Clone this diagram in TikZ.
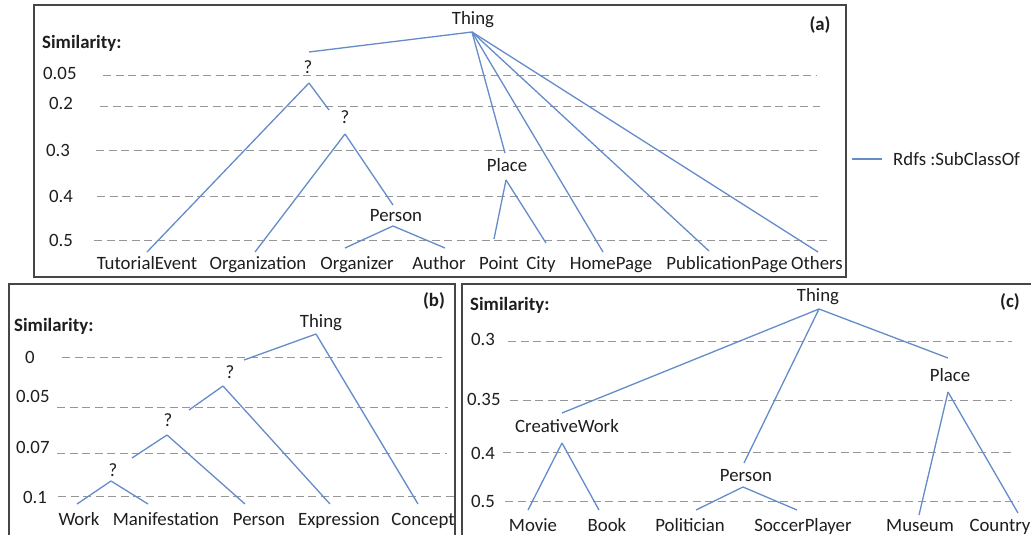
\documentclass[tikz,border=0pt]{standalone}
\usepackage{fontspec}
\setmainfont{Carlito}
\definecolor{edgeblue}{RGB}{100,140,200}
\definecolor{gridgray}{RGB}{150,150,150}
\definecolor{framegray}{RGB}{70,70,70}
\definecolor{txt}{RGB}{30,30,30}
\tikzset{
  lbl/.style={inner sep=0pt, text height=12pt, text depth=0pt, text=txt, font=\fontsize{18.8}{20}\selectfont},
  boldlbl/.style={lbl, font=\fontsize{18.8}{20}\selectfont\bfseries},
  edge/.style={draw=edgeblue, line width=1.3pt},
  grid/.style={draw=gridgray, line width=1pt, dash pattern=on 8pt off 4.5pt},
  frame/.style={draw=framegray, line width=1.6pt},
}
\begin{document}
\begin{tikzpicture}[x=1pt,y=-1pt]
\useasboundingbox (0,0) rectangle (1031,535);
\clip (0,0) rectangle (1031,535);
\fill[white] (0,0) rectangle (1031,535);

% ---------------- Panel (a) ----------------
\draw[frame] (34,5) rectangle (846,277);
\node[boldlbl, anchor=west] (simA) at (42,43) {Similarity:};
\node[boldlbl] (labA) at (820,25) {(a)};
\node[lbl, anchor=west] (a005) at (43,73) {0.05};
\node[lbl, anchor=west] (a02) at (49,103) {0.2};
\node[lbl, anchor=west] (a03) at (46,150) {0.3};
\node[lbl, anchor=west] (a04) at (49,196) {0.4};
\node[lbl, anchor=west] (a05) at (49,240) {0.5};
\draw[grid] (103,76) -- (817,76);
\draw[grid] (100,106) -- (820,106);
\draw[grid] (96,150) -- (817,150);
\draw[grid] (97,196) -- (818,196);
\draw[grid] (94,240) -- (830,240);

\node[lbl] (thingA) at (473,19) {Thing};
\node[lbl] (qA1) at (308,68) {?};
\node[lbl] (qA2) at (345,117) {?};
\node[lbl] (personA) at (396,215) {Person};
\node[lbl] (placeA) at (507,165) {Place};
\node[lbl] (te) at (147,263) {TutorialEvent};
\node[lbl] (org) at (258,263) {Organization};
\node[lbl] (orgz) at (357,263) {Organizer};
\node[lbl] (auth) at (439,263) {Author};
\node[lbl] (point) at (499,263) {Point};
\node[lbl] (city) at (541,263) {City};
\node[lbl] (home) at (611,263) {HomePage};
\node[lbl] (pub) at (727,263) {PublicationPage};
\node[lbl] (oth) at (817,263) {Others};

\coordinate (thingA-b) at (472,32);
\coordinate (qA1-t) at (309,52);
\coordinate (qA1-b) at (309,83);
\coordinate (qA2-t) at (329,110);
\coordinate (qA2-b) at (345,134);
\coordinate (personA-t) at (393,205);
\coordinate (personA-b) at (393,226);
\coordinate (placeA-t) at (505,153);
\coordinate (placeA-b) at (506,180);
\coordinate (te-t) at (147,252);
\coordinate (org-t) at (255,252);
\coordinate (orgz-t) at (345,248);
\coordinate (auth-t) at (445,248);
\coordinate (point-t) at (494,239);
\coordinate (city-t) at (546,243);
\coordinate (home-t) at (603,252);
\coordinate (pub-t) at (709,251);
\coordinate (oth-t) at (818,252);

\draw[edge] (thingA-b) -- (qA1-t);
\draw[edge] (thingA-b) -- (placeA-t);
\draw[edge] (thingA-b) -- (home-t);
\draw[edge] (thingA-b) -- (pub-t);
\draw[edge] (thingA-b) -- (oth-t);
\draw[edge] (qA1-b) -- (te-t);
\draw[edge] (qA1-b) -- (qA2-t);
\draw[edge] (qA2-b) -- (org-t);
\draw[edge] (qA2-b) -- (personA-t);
\draw[edge] (personA-b) -- (orgz-t);
\draw[edge] (personA-b) -- (auth-t);
\draw[edge] (placeA-b) -- (point-t);
\draw[edge] (placeA-b) -- (city-t);

% legend
\coordinate (legA) at (852,159);
\node[lbl, anchor=west] (legT) at (893,159) {Rdfs :SubClassOf};
\draw[edge] (legA) -- (882,159);

% ---------------- Panel (b) ----------------
\draw[frame] (9,284) rectangle (455,545);
\node[boldlbl, anchor=west] (simB) at (14,325) {Similarity:};
\node[boldlbl] (labB) at (434,300) {(b)};
\node[lbl, anchor=west] (b0) at (25,357) {0};
\node[lbl, anchor=west] (b005) at (16,396) {0.05};
\node[lbl, anchor=west] (b007) at (16,447) {0.07};
\node[lbl, anchor=west] (b01) at (23,497) {0.1};
\draw[grid] (62,357) -- (442,357);
\draw[grid] (57,407) -- (448,407);
\draw[grid] (57,453) -- (447,453);
\draw[grid] (58,496) -- (455,496);

\node[lbl] (thingB) at (321,321) {Thing};
\node[lbl] (qB1) at (230,372) {?};
\node[lbl] (qB2) at (168,420) {?};
\node[lbl] (qB3) at (113,470) {?};
\node[lbl] (work) at (79,519) {Work};
\node[lbl] (manif) at (166,519) {Manifestation};
\node[lbl] (personB) at (259,519) {Person};
\node[lbl] (expr) at (339,519) {Expression};
\node[lbl] (conc) at (423,519) {Concept};

\coordinate (thingB-b) at (316,334);
\coordinate (qB1-t) at (244,360);
\coordinate (qB1-b) at (223,386);
\coordinate (qB2-t) at (189,410);
\coordinate (qB2-b) at (167,435);
\coordinate (qB3-t) at (132,458);
\coordinate (qB3-b) at (111,481);
\coordinate (work-t) at (77,504);
\coordinate (manif-t) at (148,504);
\coordinate (personB-t) at (245,504);
\coordinate (expr-t) at (330,504);
\coordinate (conc-t) at (418,504);

\draw[edge] (thingB-b) -- (qB1-t);
\draw[edge] (thingB-b) -- (conc-t);
\draw[edge] (qB1-b) -- (qB2-t);
\draw[edge] (qB1-b) -- (expr-t);
\draw[edge] (qB2-b) -- (qB3-t);
\draw[edge] (qB2-b) -- (personB-t);
\draw[edge] (qB3-b) -- (work-t);
\draw[edge] (qB3-b) -- (manif-t);

% ---------------- Panel (c) ----------------
\draw[frame] (462,284) rectangle (1040,545);
\node[boldlbl, anchor=west] (simC) at (470,304) {Similarity:};
\node[boldlbl] (labC) at (1010,301) {(c)};
\node[lbl, anchor=west] (c03) at (471,339) {0.3};
\node[lbl, anchor=west] (c035) at (467,399) {0.35};
\node[lbl, anchor=west] (c04) at (471,453) {0.4};
\node[lbl, anchor=west] (c05) at (471,501) {0.5};
\draw[grid] (508,341) -- (1012,341);
\draw[grid] (510,400) -- (1012,400);
\draw[grid] (503,452) -- (1012,452);
\draw[grid] (505,501) -- (1018,501);

\node[lbl] (thingC) at (818,295) {Thing};
\node[lbl] (cw) at (567,426) {CreativeWork};
\node[lbl] (personC) at (746,475) {Person};
\node[lbl] (placeC) at (950,375) {Place};
\node[lbl] (movie) at (533,525) {Movie};
\node[lbl] (book) at (607,525) {Book};
\node[lbl] (pol) at (690,525) {Politician};
\node[lbl] (soc) at (803,525) {SoccerPlayer};
\node[lbl] (mus) at (920,525) {Museum};
\node[lbl] (country) at (1000,525) {Country};

\coordinate (thingC-b) at (819,309);
\coordinate (cw-t) at (562,413);
\coordinate (cw-b) at (562,443);
\coordinate (personC-t) at (744,463);
\coordinate (personC-b) at (743,487);
\coordinate (placeC-t) at (948,358);
\coordinate (placeC-b) at (948,392);
\coordinate (movie-t) at (528,510);
\coordinate (book-t) at (599,510);
\coordinate (pol-t) at (696,510);
\coordinate (soc-t) at (797,510);
\coordinate (mus-t) at (919,515);
\coordinate (country-t) at (1018,513);

\draw[edge] (thingC-b) -- (cw-t);
\draw[edge] (thingC-b) -- (personC-t);
\draw[edge] (thingC-b) -- (placeC-t);
\draw[edge] (cw-b) -- (movie-t);
\draw[edge] (cw-b) -- (book-t);
\draw[edge] (personC-b) -- (pol-t);
\draw[edge] (personC-b) -- (soc-t);
\draw[edge] (placeC-b) -- (mus-t);
\draw[edge] (placeC-b) -- (country-t);
\end{tikzpicture}
\end{document}
